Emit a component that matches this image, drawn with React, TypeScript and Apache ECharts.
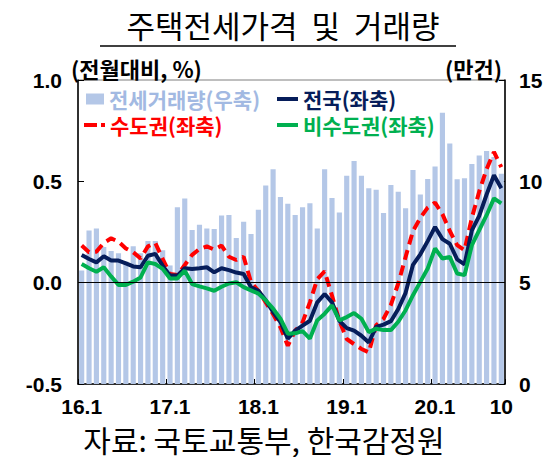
import React, { useEffect, useRef } from "react";
import * as echarts from "echarts";

// ---- data ----
const years = ["16", "17", "18", "19", "20"];
const lastMonth2020 = 10;
const categories: string[] = [];
years.forEach((y) => {
  const n = y === "20" ? lastMonth2020 : 12;
  for (let m = 1; m <= n; m++) categories.push(`${y}.${m}`);
});

const xTickLabels: Record<string, string> = {
  "16.1": "16.1",
  "17.1": "17.1",
  "18.1": "18.1",
  "19.1": "19.1",
  "20.1": "20.1",
  "20.10": "10",
};

// 전세거래량 (만건, 우축)
const leaseVolume = [
  5.6, 7.57, 7.67, 6.76, 6.56, 6.45, 6.04, 6.8, 6.45, 7.06, 7.06, 6.6,
  5.85, 8.72, 9.15, 7.6, 7.86, 7.67, 7.65, 8.32, 8.34, 7.2, 8.0, 7.4,
  8.6, 9.8, 10.6, 9.23, 8.9, 8.34, 8.72, 8.92, 7.67, 10.6, 9.18, 8.46,
  10.27, 11.0, 10.28, 9.66, 9.58, 8.44, 9.82, 9.49, 8.67, 10.56, 9.35, 10.12,
  10.73, 13.39, 11.87, 10.1, 10.15, 10.86, 11.27, 11.5, 11.2, 10.38,
];

// 전국 (좌축, 전월대비 %)
const national = [
  0.137, 0.117, 0.1, 0.13, 0.109, 0.109, 0.095, 0.08, 0.076, 0.133, 0.142, 0.084,
  0.035, 0.035, 0.071, 0.068, 0.071, 0.076, 0.051, 0.071, 0.062, 0.05, 0.043, -0.023,
  -0.04, -0.087, -0.145, -0.194, -0.276, -0.237, -0.212, -0.188, -0.097, -0.056, -0.097, -0.188,
  -0.224, -0.237, -0.262, -0.295, -0.218, -0.207, -0.19, -0.13, -0.05, 0.088, 0.14, 0.205,
  0.275, 0.215, 0.192, 0.115, 0.09, 0.258, 0.33, 0.435, 0.53, 0.466,
];

// 수도권 (좌축)
const capital = [
  0.183, 0.15, 0.153, 0.196, 0.219, 0.202, 0.169, 0.15, 0.12, 0.179, 0.196, 0.117,
  0.043, 0.038, 0.087, 0.137, 0.166, 0.179, 0.163, 0.183, 0.128, 0.112, 0.128, 0.002,
  -0.04, -0.097, -0.155, -0.22, -0.311, -0.237, -0.196, -0.097, 0.018, 0.056, -0.064, -0.188,
  -0.278, -0.303, -0.327, -0.344, -0.21, -0.178, -0.11, -0.004, 0.127, 0.255, 0.32, 0.37,
  0.395, 0.338, 0.255, 0.185, 0.16, 0.32, 0.45, 0.56, 0.645, 0.57,
];

// 비수도권 (좌축)
const nonCapital = [
  0.092, 0.071, 0.054, 0.076, 0.031, -0.011, -0.011, 0.005, 0.026, 0.1, 0.092, 0.068,
  0.021, 0.021, 0.059, -0.007, -0.018, -0.028, -0.04, -0.02, -0.004, 0.002, -0.022, -0.038,
  -0.054, -0.087, -0.128, -0.178, -0.252, -0.25, -0.239, -0.276, -0.186, -0.153, -0.112, -0.186,
  -0.17, -0.15, -0.178, -0.244, -0.227, -0.234, -0.234, -0.193, -0.136, -0.062, 0.004, 0.07,
  0.169, 0.119, 0.127, 0.045, 0.037, 0.185, 0.259, 0.333, 0.416, 0.391,
];

const leftTicks = { min: -0.5, max: 1.0, interval: 0.5 };
const rightTicks = { min: 0, max: 15, interval: 5 };

const titleText = "주택전세가격  및  거래량";
const sourceText = "자료: 국토교통부, 한국감정원";
const leftUnit = "(전월대비, %)";
const rightUnit = "(만건)";
const names = {
  volume: "전세거래량(우축)",
  national: "전국(좌축)",
  capital: "수도권(좌축)",
  nonCapital: "비수도권(좌축)",
};

const CJK = '"Noto Sans CJK KR", "Noto Sans", sans-serif';
const NUM = '"Liberation Sans", Arial, sans-serif';

const COLORS = {
  bar: "#B4C7E7",
  barText: "#A2B9E2",
  navy: "#061D5A",
  red: "#FF0000",
  green: "#00B050",
};

export default function App() {
  const ref = useRef<HTMLDivElement>(null);

  useEffect(() => {
    if (!ref.current) return;
    const chart = echarts.init(ref.current, undefined, { renderer: "svg" });

    const legendText = (color: string) => ({
      color,
      fontSize: 21,
      lineHeight: 22,
      fontWeight: "bold" as const,
      fontFamily: CJK,
    });

    const dashDotIcon = "path://M0,0L13,0L13,4L0,4Z M17,0L21,0L21,4L17,4Z";

    const option: any = {
      animation: false,
      backgroundColor: "#ffffff",
      title: {
        text: titleText,
        left: 278,
        top: 4,
        textAlign: "center",
        textStyle: {
          fontSize: 31,
          fontWeight: "normal",
          fontFamily: CJK,
          color: "#000",
        },
      },
      graphic: [
        {
          type: "line",
          shape: { x1: 100, y1: 46, x2: 456, y2: 46 },
          style: { stroke: "#000", lineWidth: 1.5 },
        },
        {
          type: "text",
          x: 71,
          y: 68,
          style: {
            text: leftUnit,
            font: `bold 22px ${CJK}`,
            fill: "#000",
            textAlign: "left",
            textVerticalAlign: "middle",
          },
        },
        {
          type: "text",
          x: 502,
          y: 68,
          style: {
            text: rightUnit,
            font: `bold 22px ${CJK}`,
            fill: "#000",
            textAlign: "right",
            textVerticalAlign: "middle",
          },
        },
        {
          type: "text",
          x: 264,
          y: 439,
          style: {
            text: sourceText,
            font: `normal 30px ${CJK}`,
            lineHeight: 30,
            fill: "#000",
            textAlign: "center",
            textVerticalAlign: "middle",
          },
        },
      ],
      legend: [
        {
          data: [names.volume],
          left: 81,
          top: 83,
          icon: "rect",
          itemWidth: 18,
          itemHeight: 11,
          textStyle: legendText(COLORS.barText),
        },
        {
          data: [names.national],
          left: 272,
          top: 83,
          icon: "rect",
          itemWidth: 21,
          itemHeight: 4,
          textStyle: legendText(COLORS.navy),
        },
        {
          data: [names.capital],
          left: 79,
          top: 109,
          icon: dashDotIcon,
          itemWidth: 21,
          itemHeight: 4,
          textStyle: legendText(COLORS.red),
        },
        {
          data: [names.nonCapital],
          left: 272,
          top: 109,
          icon: "rect",
          itemWidth: 21,
          itemHeight: 4,
          textStyle: legendText(COLORS.green),
        },
      ],
      grid: {
        left: 78,
        right: 48,
        top: 80,
        bottom: 73,
        show: true,
        borderColor: "#7f7f7f",
        borderWidth: 1,
        containLabel: false,
      },
      xAxis: {
        type: "category",
        data: categories,
        boundaryGap: true,
        axisLine: { show: true, onZero: false, lineStyle: { color: "#000", width: 1.5 } },
        axisTick: {
          show: true,
          inside: true,
          length: 5,
          interval: (i: number) => i % 12 === 0,
          lineStyle: { color: "#000", width: 1 },
        },
        axisLabel: {
          interval: (_i: number, v: string) => v in xTickLabels,
          formatter: (v: string) => xTickLabels[v] ?? "",
          color: "#000",
          fontSize: 21,
          lineHeight: 21,
          fontWeight: "bold",
          fontFamily: NUM,
          margin: 12,
        },
        splitLine: { show: false },
      },
      yAxis: [
        {
          type: "value",
          position: "left",
          min: leftTicks.min,
          max: leftTicks.max,
          interval: leftTicks.interval,
          axisLine: { show: true, lineStyle: { color: "#000", width: 1.5 } },
          axisTick: { show: true, inside: true, length: 6, lineStyle: { color: "#000" } },
          axisLabel: {
            formatter: (v: number) => v.toFixed(1),
            color: "#000",
            fontSize: 21,
            fontWeight: "bold",
            fontFamily: NUM,
            margin: 16,
          },
          splitLine: { show: false },
        },
        {
          type: "value",
          position: "right",
          min: rightTicks.min,
          max: rightTicks.max,
          interval: rightTicks.interval,
          axisLine: { show: true, lineStyle: { color: "#000", width: 1.5 } },
          axisTick: { show: true, inside: true, length: 6, lineStyle: { color: "#000" } },
          axisLabel: {
            color: "#000",
            fontSize: 21,
            fontWeight: "bold",
            fontFamily: NUM,
            margin: 14,
          },
          splitLine: { show: false },
        },
      ],
      series: [
        {
          name: names.volume,
          type: "bar",
          yAxisIndex: 1,
          data: leaseVolume,
          barCategoryGap: "30%",
          itemStyle: { color: COLORS.bar },
          markLine: {
            silent: true,
            symbol: ["none", "none"],
            label: { show: false },
            lineStyle: { color: "#000", width: 1, type: "solid" },
            data: [{ yAxis: 5 }],
          },
        },
        {
          name: names.capital,
          type: "line",
          yAxisIndex: 0,
          data: capital,
          symbol: "none",
          lineStyle: { color: COLORS.red, width: 4, type: [10, 6] },
          itemStyle: { color: COLORS.red },
        },
        {
          name: names.national,
          type: "line",
          yAxisIndex: 0,
          data: national,
          symbol: "none",
          lineStyle: { color: COLORS.navy, width: 4 },
          itemStyle: { color: COLORS.navy },
        },
        {
          name: names.nonCapital,
          type: "line",
          yAxisIndex: 0,
          data: nonCapital,
          symbol: "none",
          lineStyle: { color: COLORS.green, width: 4 },
          itemStyle: { color: COLORS.green },
        },
      ],
    };

    chart.setOption(option);
    return () => chart.dispose();
  }, []);

  return (
    <div
      ref={ref}
      style={{ position: "fixed", left: 0, top: 0, width: 553, height: 457, background: "#fff" }}
    />
  );
}
